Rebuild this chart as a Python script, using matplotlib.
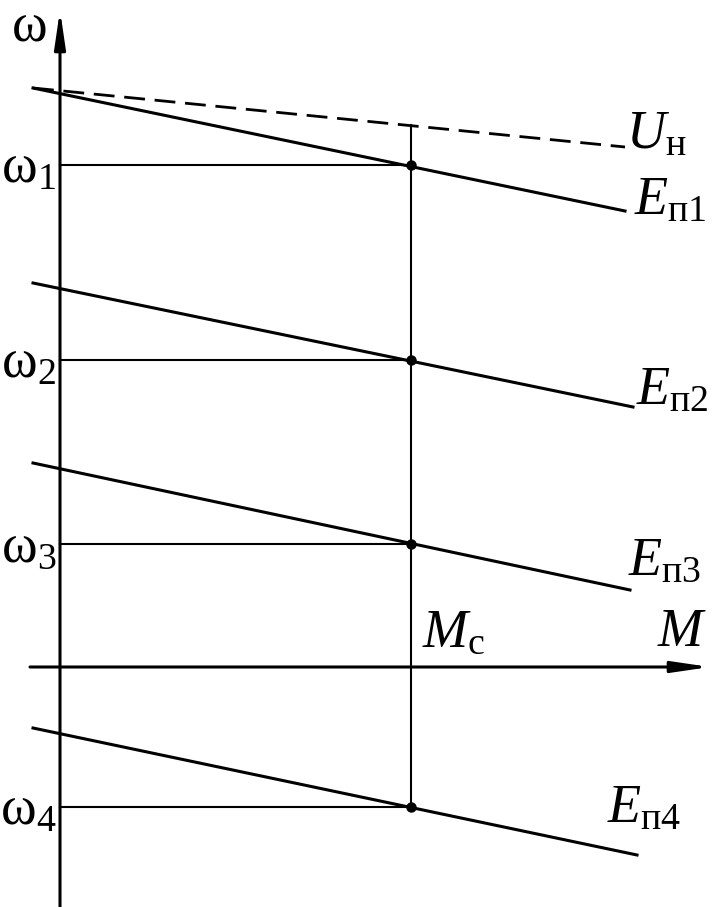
import matplotlib
matplotlib.use("Agg")
import matplotlib.pyplot as plt

plt.rcParams['mathtext.fontset'] = 'custom'
plt.rcParams['mathtext.rm'] = 'Liberation Serif'
plt.rcParams['mathtext.it'] = 'Liberation Serif:italic'
plt.rcParams['font.family'] = ['Liberation Serif', 'DejaVu Serif']

# Data (M, omega) in arbitrary units; origin at axes intersection
M_start = -27
Mc = 351
# U_н (dashed) line endpoints
U_M = [M_start, 565]
U_w = [579, 520]
# E_п lines: endpoints
E_M = [[M_start, 565], [M_start, 573], [M_start, 570], [M_start, 577]]
E_w = [[579, 456], [384, 260], [204, 77], [-61, -188]]
# operating speeds at Mc
omega_pts = [502, 307, 123, -140]
omega_labels = [r'$\mathrm{ω}_{1}$', r'$\mathrm{ω}_{2}$', r'$\mathrm{ω}_{3}$', r'$\mathrm{ω}_{4}$']
E_labels = [r'$E_{\mathrm{п1}}$', r'$E_{\mathrm{п2}}$', r'$E_{\mathrm{п3}}$', r'$E_{\mathrm{п4}}$']
E_label_pos = [(574, 452), (576, 262), (568, 92), (547, -155)]

fig = plt.figure(figsize=(7.18, 9.07), dpi=100)
ax = fig.add_axes([0, 0, 1, 1])
ax.set_xlim(-60, 658)
ax.set_ylim(-240, 667)
ax.axis('off')

lw_main = 2.2
arrow = dict(arrowstyle='-|>,head_length=1.5,head_width=0.22',
             lw=lw_main, color='black', mutation_scale=15,
             shrinkA=0, shrinkB=0)
# axes with arrows
ax.annotate('', xy=(650, 0), xytext=(-30, 0), arrowprops=arrow)
ax.annotate('', xy=(0, 657), xytext=(0, -240), arrowprops=arrow)

# dashed U_н line
ax.plot(U_M, U_w, color='black', lw=2.0, dashes=(7.5, 3.5), solid_capstyle='butt')

# E lines
for m, w in zip(E_M, E_w):
    ax.plot(m, w, color='black', lw=lw_main)

# vertical Mc line
ax.plot([Mc, Mc], [542, omega_pts[-1]], color='black', lw=1.5)

# horizontal lines and dots
for w in omega_pts:
    ax.plot([0, Mc], [w, w], color='black', lw=1.5)
    ax.plot([Mc], [w], 'o', color='black', ms=6.5)

fs = 39
for w, lab in zip(omega_pts, omega_labels):
    ax.text(-4, w - 4, lab, fontsize=fs, ha='right', va='center')

ax.text(-31, 640, r'$\mathrm{ω}$', fontsize=fs, ha='center', va='center')
ax.text(566, 519, r'$U_{\mathrm{н}}$', fontsize=fs, ha='left', va='baseline')
for (x, y), lab in zip(E_label_pos, E_labels):
    ax.text(x, y, lab, fontsize=fs, ha='left', va='baseline')
ax.text(362, 21, r'$M_{\mathrm{c}}$', fontsize=fs, ha='left', va='baseline')
ax.text(597, 21, r'$M$', fontsize=fs, ha='left', va='baseline')

fig.savefig('out.png', dpi=100)
